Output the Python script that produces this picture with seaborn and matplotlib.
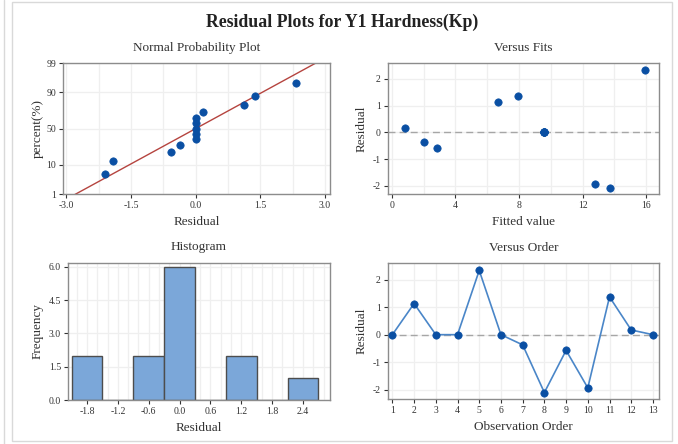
import numpy as np
import pandas as pd
import seaborn as sns
import matplotlib
matplotlib.use("Agg")
import matplotlib.pyplot as plt
from matplotlib.ticker import MultipleLocator, FixedLocator
from statistics import NormalDist

# ---------------- data ----------------
order = list(range(1, 14))
residuals = [0.0, 1.13, 0.0, 0.0, 2.33, 0.0, -0.37, -2.10, -0.57, -1.93, 1.37, 0.17, 0.0]
fitted = [9.55, 6.70, 9.55, 9.55, 15.95, 9.55, 2.05, 13.70, 2.85, 12.75, 7.95, 0.80, 9.55]
sorted_resid = [-2.10, -1.93, -0.57, -0.37, 0.0, 0.0, 0.0, 0.0, 0.0, 0.17, 1.13, 1.37, 2.33]
percent = [5.2, 12.7, 20.1, 27.6, 35.1, 42.5, 50.0, 57.5, 64.9, 72.4, 79.9, 87.3, 94.8]

prob_ticks = [1, 10, 50, 90, 99]
prob_xticks = [-3.0, -1.5, 0.0, 1.5, 3.0]
fits_xticks = [0, 4, 8, 12, 16]
resid_yticks = [-2, -1, 0, 1, 2]
hist_xticks = [-1.8, -1.2, -0.6, 0.0, 0.6, 1.2, 1.8, 2.4]
hist_yticks = [0.0, 1.5, 3.0, 4.5, 6.0]

df_order = pd.DataFrame({"order": order, "resid": residuals, "fit": fitted})
df_prob = pd.DataFrame({"resid": sorted_resid, "pct": percent})

# ---------------- style ----------------
sns.set_theme(style="white")
plt.rcParams["font.family"] = ["Liberation Serif", "DejaVu Serif"]
plt.rcParams["axes.edgecolor"] = "#8c8c8c"
plt.rcParams["axes.linewidth"] = 1.0
plt.rcParams["axes.unicode_minus"] = False

DOT = "#0a4fa3"
LINE = "#4a86c8"
BAR = "#7ba7d9"
GRID = "#efefef"
TXT = "#333333"

fig = plt.figure(figsize=(6.78, 4.44), dpi=100)
fig.patch.set_facecolor("white")

ax1 = fig.add_axes([0.0929, 0.563, 0.394, 0.295])
ax2 = fig.add_axes([0.572, 0.563, 0.400, 0.295])
ax3 = fig.add_axes([0.1003, 0.099, 0.386, 0.309])
ax4 = fig.add_axes([0.572, 0.101, 0.400, 0.306])

def style(ax, title, xlabel, ylabel, ypad=4):
    ax.set_title(title, fontsize=9.5, color=TXT, pad=9)
    ax.set_xlabel(xlabel, fontsize=9.5, color=TXT, labelpad=4)
    ax.set_ylabel(ylabel, fontsize=9.5, color=TXT, labelpad=ypad)
    ax.tick_params(axis="both", labelsize=7, colors=TXT, length=3, width=0.8,
                   direction="out", pad=2, bottom=True, left=True)
    ax.tick_params(axis="both", which="minor", length=0)
    ax.grid(True, which="both", color=GRID, linewidth=0.9)
    ax.set_axisbelow(True)
    for s in ax.spines.values():
        s.set_color("#8c8c8c")

# ---- Normal probability plot ----
nd = NormalDist()
_inv_cdf = np.vectorize(nd.inv_cdf, otypes=[float])
_cdf = np.vectorize(nd.cdf, otypes=[float])
def fwd(p):
    p = np.clip(np.asarray(p, dtype=float) / 100.0, 1e-9, 1 - 1e-9)
    return _inv_cdf(p)
def inv(z):
    return _cdf(np.asarray(z, dtype=float)) * 100.0

ax1.set_yscale("function", functions=(fwd, inv))
mu = float(np.mean(sorted_resid))
sd = float(np.std(sorted_resid, ddof=1))
xs = np.linspace(-3.1, 3.1, 200)
fit_line = pd.DataFrame({"x": xs, "p": [NormalDist(mu, sd).cdf(v) * 100 for v in xs]})
sns.lineplot(data=fit_line, x="x", y="p", ax=ax1, color="#b5443f", linewidth=1.0)
sns.scatterplot(data=df_prob, x="resid", y="pct", ax=ax1, color=DOT, s=28,
                edgecolor=DOT, linewidth=0.5, zorder=3)
ax1.set_xlim(-3.08, 3.12)
ax1.set_ylim(1, 99)
ax1.yaxis.set_major_locator(FixedLocator(prob_ticks))
ax1.set_yticklabels([str(t) for t in prob_ticks])
ax1.yaxis.set_minor_locator(FixedLocator([]))
ax1.set_xticks(prob_xticks)
ax1.set_xticklabels([f"{t:.1f}" for t in prob_xticks])
ax1.xaxis.set_minor_locator(MultipleLocator(0.75))
style(ax1, "Normal Probability Plot", "Residual", "percent(%)", ypad=2)

# ---- Versus fits ----
ax2.axhline(0, color="#a6a6a6", linestyle=(0, (5, 3)), linewidth=1.0, zorder=1)
sns.scatterplot(data=df_order, x="fit", y="resid", ax=ax2, color=DOT, s=28,
                edgecolor=DOT, linewidth=0.5, zorder=3)
ax2.set_xlim(-0.25, 16.8)
ax2.set_ylim(-2.31, 2.59)
ax2.set_xticks(fits_xticks)
ax2.set_yticks(resid_yticks)
ax2.xaxis.set_minor_locator(MultipleLocator(2))
style(ax2, "Versus Fits", "Fitted value", "Residual", ypad=4)

# ---- Histogram ----
sns.histplot(data=df_order, x="resid", ax=ax3, binwidth=0.6, binrange=(-2.1, 2.7),
             color=BAR, edgecolor="#4d4d4d", linewidth=1.0, alpha=1.0, zorder=2)
ax3.set_xlim(-2.17, 2.92)
ax3.set_ylim(0, 6.18)
ax3.set_xticks(hist_xticks)
ax3.set_xticklabels([f"{t:.1f}" for t in hist_xticks])
ax3.set_yticks(hist_yticks)
ax3.set_yticklabels([f"{t:.1f}" for t in hist_yticks])
ax3.xaxis.set_minor_locator(MultipleLocator(0.2))
style(ax3, "Histogram", "Residual", "Frequency", ypad=4)

# ---- Versus order ----
ax4.axhline(0, color="#a6a6a6", linestyle=(0, (5, 3)), linewidth=1.0, zorder=1)
sns.lineplot(data=df_order, x="order", y="resid", ax=ax4, color=LINE, linewidth=1.2,
             zorder=2)
sns.scatterplot(data=df_order, x="order", y="resid", ax=ax4, color=DOT, s=28,
                edgecolor=DOT, linewidth=0.5, zorder=3)
ax4.set_xlim(0.79, 13.28)
ax4.set_ylim(-2.34, 2.59)
ax4.set_xticks(order)
ax4.set_yticks(resid_yticks)
style(ax4, "Versus Order", "Observation Order", "Residual", ypad=4)

fig.text(0.505, 0.95, "Residual Plots for Y1 Hardness(Kp)", ha="center", va="center",
         fontsize=12.8, fontweight="bold", color="#222222")

# outer frame
fig.add_artist(plt.Rectangle((12 / 678, 3 / 444), 660 / 678, 439 / 444,
                             transform=fig.transFigure, fill=False,
                             edgecolor="#d9d9d9", linewidth=1.0))
fig.add_artist(plt.Line2D([4 / 678, 4 / 678], [0, 1], transform=fig.transFigure,
                          color="#d9d9d9", linewidth=1.0))

fig.savefig("out.png", dpi=100, facecolor="white")
